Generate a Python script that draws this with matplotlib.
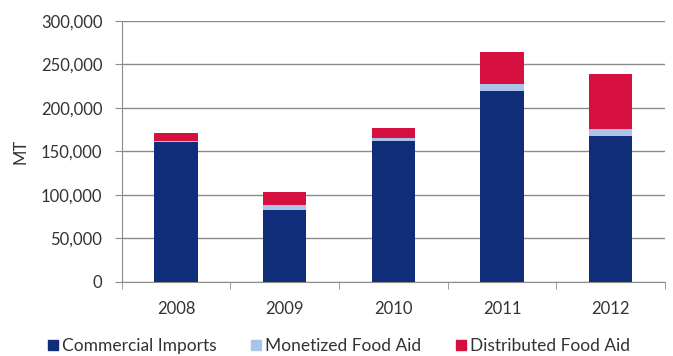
import matplotlib
matplotlib.use('Agg')
import matplotlib.pyplot as plt
from matplotlib.patches import Patch
from matplotlib.ticker import FuncFormatter
import numpy as np

plt.rcParams['font.family'] = ['Lato', 'DejaVu Sans']

years = ['2008', '2009', '2010', '2011', '2012']
commercial = [161000, 83000, 162000, 220000, 168000]
monetized = [1000, 5000, 4000, 8000, 8000]
distributed = [9000, 15000, 11000, 36000, 63000]

series_names = ['Commercial Imports', 'Monetized Food Aid', 'Distributed Food Aid']
colors = ['#0F2D78', '#A9C4E8', '#D5103F']

fig = plt.figure(figsize=(6.73, 3.56), dpi=100)
ax = fig.add_axes([0.181, 0.208, 0.807, 0.733])

x = np.arange(len(years))
w = 0.4
bottom = np.zeros(len(years))
for vals, col in zip([commercial, monetized, distributed], colors):
    ax.bar(x, vals, w, bottom=bottom, color=col, zorder=3)
    bottom += np.array(vals)

ax.set_xlim(-0.5, len(years) - 0.5)
ax.set_ylim(0, 300000)
ax.set_yticks(np.arange(0, 300001, 50000))
ax.yaxis.set_major_formatter(FuncFormatter(lambda v, p: f'{int(v):,}'))
ax.set_xticks(x)
ax.set_xticklabels(years)
# category separators on the x axis
ax.set_xticks(np.arange(-0.5, len(years) + 0.5, 1), minor=True)
ax.tick_params(axis='x', which='major', length=0, labelsize=12, pad=14, colors='#333333')
ax.tick_params(axis='x', which='minor', length=5, color='#8C8C8C')
ax.tick_params(axis='y', length=5, color='#8C8C8C', labelsize=12, labelcolor='#333333', pad=9)

ax.grid(axis='y', color='#8C8C8C', linewidth=1, zorder=0)
for s in ['top', 'right']:
    ax.spines[s].set_visible(False)
for s in ['left', 'bottom']:
    ax.spines[s].set_color('#8C8C8C')

ax.set_ylabel('MT', fontsize=12, color='#333333', labelpad=9)

handles = [Patch(color=c, label=n) for c, n in zip(colors, series_names)]
fig.legend(handles=handles, loc='center', bbox_to_anchor=(0.504, 0.027), ncol=3,
           frameon=False, fontsize=12.5, handlelength=0.55, handleheight=0.55,
           handletextpad=0.25, columnspacing=2.0, labelcolor='#333333',
           borderpad=0)

plt.savefig('out.png', dpi=100)
plt.close()
